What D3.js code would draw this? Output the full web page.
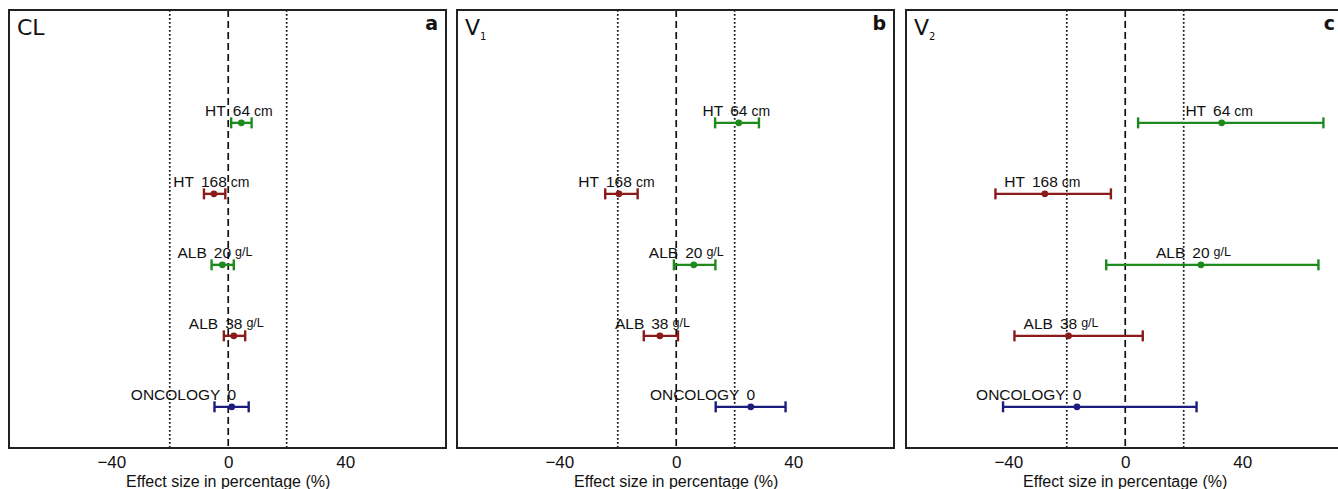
<!DOCTYPE html>
<html>
<head>
<meta charset="utf-8">
<script src="https://cdn.jsdelivr.net/npm/d3@7"></script>
<style>
  body { margin: 0; background: #fff; }
  svg { display: block; }
</style>
</head>
<body>
<div id="chart"></div>
<script>
// Covariate levels, top to bottom
var covNames  = ['HT', 'HT', 'ALB', 'ALB', 'ONCOLOGY'];
var covValues = ['64', '168', '20', '38', '0'];
var covUnits  = ['cm', 'cm', 'g/L', 'g/L', ''];

// Panels
var panelLetters = ['a', 'b', 'c'];
var panelTitles  = ['CL', 'V', 'V'];
var panelSubs    = ['', '1', '2'];

// Effect size in percentage (%): point estimate and interval, per panel
var clPoint = [4.5, -4.9, -2.0, 1.9, 1.2];
var clLower = [1.0, -8.3, -5.7, -1.5, -4.7];
var clUpper = [8.0, -1.0, 1.9, 5.8, 7.0];

var v1Point = [21.4, -19.6, 6.0, -5.6, 25.5];
var v1Lower = [13.3, -24.3, -0.8, -11.1, 13.5];
var v1Upper = [28.3, -13.2, 13.4, 0.6, 37.4];

var v2Point = [33.0, -27.5, 25.9, -19.4, -16.5];
var v2Lower = [4.4, -44.4, -6.5, -37.9, -41.8];
var v2Upper = [67.8, -4.9, 66.1, 6.0, 24.4];

var xTicks = [-40, 0, 40];
var refLines = [-20, 20];

var pointSets = [clPoint, v1Point, v2Point];
var lowerSets = [clLower, v1Lower, v2Lower];
var upperSets = [clUpper, v1Upper, v2Upper];

// colours per covariate level
var levelColors = ['#1e8a1e', '#8b1a1a', '#1e8a1e', '#8b1a1a', '#1c1c7e'];

drawChart();

function drawChart() {
    var width = 1338, height = 489;
    var panelLeft = [9, 457, 906];
    var panelW = 437;
    var plotTop = 10, plotBottom = 448;
    var labelFont = '"Liberation Sans", Arial, sans-serif';

    var svg = d3.select('#chart').append('svg')
        .attr('width', width)
        .attr('height', height);

    // y: level 1 (ONCOLOGY) at the bottom, level 5 (HT 64) at the top
    var y = d3.scaleLinear().domain([0.42, 6.59]).range([plotBottom, plotTop]);

    panelLetters.forEach(function(letter, p) {
        var x = d3.scaleLinear()
            .domain([-75, 74.5])
            .range([panelLeft[p], panelLeft[p] + panelW]);

        var g = svg.append('g').attr('class', 'panel-' + letter);

        // reference lines
        g.selectAll('line.ref')
            .data(refLines)
            .enter().append('line')
            .attr('class', 'ref')
            .attr('x1', function(d) { return x(d); })
            .attr('x2', function(d) { return x(d); })
            .attr('y1', plotTop).attr('y2', plotBottom)
            .style('stroke', '#111')
            .style('stroke-width', 1.7)
            .style('stroke-dasharray', '1.7,2.3');

        g.append('line')
            .attr('x1', x(0)).attr('x2', x(0))
            .attr('y1', plotTop).attr('y2', plotBottom)
            .style('stroke', '#111')
            .style('stroke-width', 1.7)
            .style('stroke-dasharray', '7,4');

        // intervals
        var rows = covNames.map(function(n, i) {
            return { i: i, level: covNames.length - i,
                     pt: pointSets[p][i], lo: lowerSets[p][i], hi: upperSets[p][i] };
        });

        var row = g.selectAll('g.row')
            .data(rows)
            .enter().append('g')
            .attr('class', 'row');

        row.append('line')
            .attr('x1', function(d) { return x(d.lo); })
            .attr('x2', function(d) { return x(d.hi); })
            .attr('y1', function(d) { return y(d.level); })
            .attr('y2', function(d) { return y(d.level); })
            .style('stroke', function(d) { return levelColors[d.i]; })
            .style('stroke-width', 2.4);

        ['lo', 'hi'].forEach(function(k) {
            row.append('line')
                .attr('x1', function(d) { return x(d[k]); })
                .attr('x2', function(d) { return x(d[k]); })
                .attr('y1', function(d) { return y(d.level) - 5.5; })
                .attr('y2', function(d) { return y(d.level) + 5.5; })
                .style('stroke', function(d) { return levelColors[d.i]; })
                .style('stroke-width', 2.4);
        });

        row.append('circle')
            .attr('cx', function(d) { return x(d.pt); })
            .attr('cy', function(d) { return y(d.level); })
            .attr('r', 3.4)
            .style('fill', function(d) { return levelColors[d.i]; });

        // labels: value centred on the estimate, name before it, unit after
        var lab = row.append('g')
            .attr('transform', function(d) { return 'translate(' + x(d.pt) + ',' + (y(d.level) - 7) + ')'; })
            .style('font-family', labelFont)
            .style('fill', '#111');

        lab.append('text')
            .attr('text-anchor', 'middle')
            .style('font-size', '15.5px')
            .text(function(d) { return covValues[d.i]; });

        lab.each(function(d) {
            var gl = d3.select(this);
            var vw = gl.select('text').node().getComputedTextLength();
            gl.append('text')
                .attr('x', -vw / 2 - 7)
                .attr('text-anchor', 'end')
                .style('font-size', '15.5px')
                .text(covNames[d.i]);
            var unit = covUnits[d.i];
            if (unit) {
                var small = unit === 'g/L';
                gl.append('text')
                    .attr('x', vw / 2 + 4)
                    .attr('y', small ? -2 : 0)
                    .attr('text-anchor', 'start')
                    .style('font-size', small ? '12.5px' : '14px')
                    .text(unit);
            }
        });

        // frame
        g.append('rect')
            .attr('x', panelLeft[p]).attr('y', plotTop)
            .attr('width', panelW).attr('height', plotBottom - plotTop)
            .style('fill', 'none')
            .style('stroke', '#222')
            .style('stroke-width', 2);

        // title
        var t = g.append('text')
            .attr('x', panelLeft[p] + 8)
            .attr('y', 35)
            .style('font-family', '"DejaVu Sans", sans-serif')
            .style('font-size', '22px')
            .style('fill', '#111')
            .text(panelTitles[p]);
        if (panelSubs[p]) {
            t.append('tspan')
                .attr('dy', 5)
                .attr('dx', 0)
                .style('font-size', '10px')
                .text(panelSubs[p]);
        }

        g.append('text')
            .attr('x', panelLeft[p] + panelW - 8)
            .attr('y', 30)
            .attr('text-anchor', 'end')
            .style('font-family', '"DejaVu Sans", sans-serif')
            .style('font-weight', 'bold')
            .style('font-size', '19px')
            .style('fill', '#111')
            .text(letter);

        // axis
        var axis = g.append('g')
            .attr('transform', 'translate(0,' + plotBottom + ')')
            .call(d3.axisBottom(x).tickValues(xTicks).tickSize(0).tickPadding(6)
                  .tickFormat(function(d) { return d < 0 ? '\u2212' + Math.abs(d) : d; }));
        axis.select('.domain').remove();
        axis.selectAll('text')
            .attr('dy', null)
            .attr('y', 20)
            .style('font-family', labelFont)
            .style('font-size', '17px')
            .style('fill', '#111');

        g.append('text')
            .attr('x', x(0))
            .attr('y', 487)
            .attr('text-anchor', 'middle')
            .style('font-family', labelFont)
            .style('font-size', '16px')
            .style('fill', '#111')
            .text('Effect size in percentage (%)');
    });
} // drawChart()
</script>
</body>
</html>
